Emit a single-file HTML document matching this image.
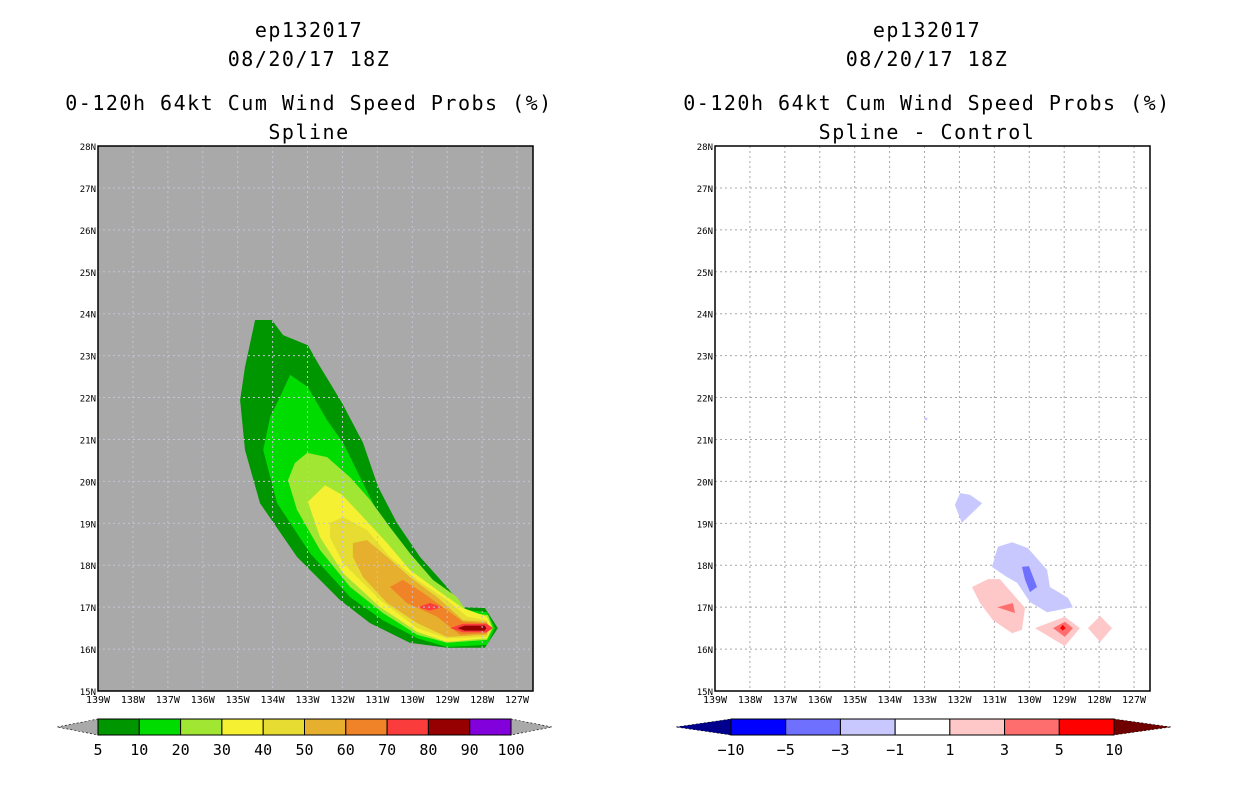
<!DOCTYPE html>
<html><head><meta charset="utf-8"><style>
body{margin:0;background:#fff;width:1236px;height:800px;overflow:hidden}
svg{display:block}
text{font-family:"DejaVu Sans Mono","Liberation Mono",monospace}
.tt{letter-spacing:1.5px}
</style></head><body>
<svg id="chart" width="1236" height="800" xmlns="http://www.w3.org/2000/svg">
<g font-size="20" text-anchor="middle" fill="#000" class="tt">
<text x="309" y="37">ep132017</text>
<text x="309" y="66">08/20/17 18Z</text>
<text x="309" y="110">0-120h 64kt Cum Wind Speed Probs (%)</text>
<text x="309" y="139">Spline</text>
</g>
<g font-size="20" text-anchor="middle" fill="#000" class="tt">
<text x="927" y="37">ep132017</text>
<text x="927" y="66">08/20/17 18Z</text>
<text x="927" y="110">0-120h 64kt Cum Wind Speed Probs (%)</text>
<text x="927" y="139">Spline - Control</text>
</g>
</svg>
<script>
// ---- data ----
const lonTicks=[-139,-138,-137,-136,-135,-134,-133,-132,-131,-130,-129,-128,-127];
const latTicks=[15,16,17,18,19,20,21,22,23,24,25,26,27,28];
const probLevels=[5,10,20,30,40,50,60,70,80,90,100];
const probColors=["#009600","#00dc00","#a0e632","#f5f032","#e6dc32","#e6af2d","#f08228","#fa3c3c","#960000","#8200dc"];
const diffLevels=[-10,-5,-3,-1,1,3,5,10];
const diffColors=["#0000ff","#7070ff","#c8c8ff","#ffffff","#ffc8c8","#ff6e6e","#ff0000"];
const prob5=[[-134.5,23.85],[-134.02,23.85],[-133.7,23.49],[-132.99,23.25],[-132.7,22.82],[-132.01,21.87],[-131.41,20.92],[-130.98,19.87],[-130.44,19.01],[-129.78,18.2],[-129.01,17.48],[-128.55,17.0],[-127.92,16.98],[-127.55,16.5],[-127.92,16.03],[-129.01,16.03],[-130.07,16.15],[-131.21,16.62],[-132.07,17.17],[-133.3,18.2],[-134.36,19.48],[-134.79,20.75],[-134.93,21.94],[-134.79,22.73]];
const prob10=[[-133.5,22.54],[-132.99,22.25],[-132.44,21.46],[-131.98,20.92],[-131.41,19.96],[-130.84,19.01],[-130.15,18.2],[-129.41,17.48],[-128.72,17.1],[-128.43,16.93],[-127.86,16.88],[-127.63,16.5],[-127.86,16.1],[-129.01,16.05],[-129.86,16.26],[-130.84,16.69],[-131.78,17.24],[-132.93,18.29],[-133.87,19.48],[-134.27,20.75],[-134.07,21.54],[-133.79,22.01]];
const prob20=[[-133.01,20.68],[-132.44,20.58],[-131.78,20.1],[-131.21,19.56],[-130.64,18.91],[-130.07,18.29],[-129.41,17.65],[-128.72,17.24],[-128.43,16.88],[-127.83,16.81],[-127.69,16.5],[-127.86,16.22],[-129.01,16.15],[-129.86,16.34],[-130.84,16.86],[-131.78,17.48],[-132.64,18.36],[-133.3,19.32],[-133.56,20.03],[-133.36,20.44]];
const prob30=[[-132.5,19.91],[-132.01,19.68],[-131.41,19.15],[-130.72,18.53],[-130.07,17.89],[-129.29,17.41],[-128.55,16.98],[-127.86,16.77],[-127.72,16.5],[-127.86,16.26],[-129.01,16.17],[-129.86,16.41],[-130.92,17.0],[-131.98,17.81],[-132.64,18.67],[-132.99,19.51]];
const prob40=[[-132.36,19.01],[-131.98,19.15],[-131.3,18.84],[-130.64,18.2],[-129.86,17.65],[-129.01,17.17],[-128.43,16.77],[-127.86,16.69],[-127.77,16.5],[-127.86,16.29],[-129.01,16.26],[-129.86,16.5],[-130.92,17.17],[-131.98,18.05],[-132.36,18.67]];
const prob50=[[-131.7,18.53],[-131.3,18.6],[-130.72,18.2],[-130.07,17.72],[-129.29,17.24],[-128.55,16.69],[-127.86,16.65],[-127.83,16.5],[-127.86,16.34],[-129.01,16.29],[-129.86,16.62],[-130.72,17.1],[-131.41,17.72],[-131.7,18.2]];
const prob60=[[-130.64,17.48],[-130.27,17.65],[-129.69,17.34],[-129.12,17.0],[-128.55,16.65],[-127.86,16.62],[-127.86,16.38],[-128.63,16.34],[-129.29,16.77],[-130.15,17.1]];
const prob70a=[[-129.85,17.0],[-129.49,17.1],[-129.15,17.0],[-129.49,16.92]];
const prob70b=[[-128.92,16.5],[-128.55,16.6],[-127.86,16.6],[-127.69,16.5],[-127.86,16.4],[-128.55,16.4]];
const prob80=[[-128.7,16.5],[-128.5,16.56],[-127.92,16.56],[-127.88,16.5],[-127.92,16.44],[-128.5,16.44]];
const diffNeg1a=[[-131.98,19.72],[-131.7,19.68],[-131.35,19.48],[-131.61,19.27],[-131.93,19.01],[-132.13,19.44]];
const diffNeg1b=[[-131.07,17.96],[-130.9,18.44],[-130.49,18.55],[-130.04,18.41],[-129.49,17.89],[-129.41,17.48],[-128.89,17.22],[-128.75,17.0],[-129.49,16.88],[-129.98,17.12],[-130.35,17.58],[-130.64,17.72]];
const diffNeg1c=[[-133.0,21.52],[-132.92,21.52],[-132.92,21.46],[-133.0,21.46]];
const diffNeg3=[[-130.21,17.96],[-130.01,17.98],[-129.78,17.48],[-129.98,17.36],[-130.12,17.65]];
const diffPos1a=[[-131.64,17.48],[-131.18,17.67],[-130.84,17.67],[-130.12,16.98],[-130.21,16.46],[-130.49,16.38],[-131.04,16.69],[-131.41,17.1]];
const diffPos1b=[[-129.84,16.5],[-128.98,16.77],[-128.55,16.5],[-128.98,16.07]];
const diffPos1c=[[-128.32,16.5],[-127.97,16.79],[-127.63,16.5],[-127.97,16.17]];
const diffPos3a=[[-130.92,17.0],[-130.47,17.1],[-130.41,16.86]];
const diffPos3b=[[-129.32,16.5],[-128.98,16.65],[-128.75,16.5],[-128.98,16.29]];
const diffPos5=[[-129.12,16.5],[-129.04,16.58],[-128.96,16.5],[-129.04,16.44]];
// ---- drawing ----
const NS="http://www.w3.org/2000/svg";
const svg=document.getElementById('chart');
function mk(tag,attrs,parent){const e=document.createElementNS(NS,tag);for(const k in attrs)e.setAttribute(k,attrs[k]);(parent||svg).appendChild(e);return e;}
const PX=34.92, PY=41.92;
function panel(x0){return {x:lon=>x0+(lon+139)*PX, y:lat=>691-(lat-15)*PY, x0:x0};}
const L=panel(98), R=panel(715);
function poly(P,pts,fill,name,parent){const e=mk('polygon',{points:pts.map(p=>P.x(p[0]).toFixed(1)+','+P.y(p[1]).toFixed(1)).join(' '),fill:fill},parent);

return e;}
function frame(P,bg,gridCol,name){
 const g=mk('g',{});
 
 
 const r=mk('rect',{x:P.x0,y:146,width:435,height:545,fill:bg},g);
 
 
 return g;}
function grid(P,col,g){
 lonTicks.slice(1).forEach(l=>{const e=mk('line',{x1:P.x(l),x2:P.x(l),y1:146,y2:691,stroke:col,'stroke-width':1,'stroke-dasharray':'2,3'},g);
 
 });
 latTicks.slice(1,-1).forEach(l=>{const e=mk('line',{x1:P.x0,x2:P.x0+435,y1:P.y(l),y2:P.y(l),stroke:col,'stroke-width':1,'stroke-dasharray':'2,3'},g);
 
 });}
function axes(P,g){
 const b=mk('rect',{x:P.x0,y:146,width:435,height:545,fill:'none',stroke:'#000','stroke-width':1.5},g);
 
 
 lonTicks.forEach(l=>{const t=mk('text',{x:P.x(l),y:703,'font-size':10,'text-anchor':'middle'},g);t.textContent=(-l)+'W';
 
 });
 latTicks.forEach(l=>{const t=mk('text',{x:P.x0-2,y:P.y(l)+4,'font-size':9,'text-anchor':'end'},g);t.textContent=l+'N';
 
 });}
// left panel
const gl=frame(L,'#a9a9a9','#c8c8dc','left-plot');
const probPolys=[prob5,prob10,prob20,prob30,prob40,prob50,prob60];
probPolys.forEach((p,i)=>poly(L,p,probColors[i],'prob-contour-'+probLevels[i],gl));
poly(L,prob70a,probColors[7],'prob-contour-70a',gl);
poly(L,prob70b,probColors[7],'prob-contour-70b',gl);
poly(L,prob80,probColors[8],'prob-contour-80',gl);
grid(L,'#c4c4d4',gl); axes(L,gl);
// right panel
const gr=frame(R,'#ffffff','#aaa','right-plot');
grid(R,'#a8a8a8',gr);
[diffNeg1a,diffNeg1b,diffNeg1c].forEach((p,i)=>poly(R,p,diffColors[2],'diff-contour-neg1-'+i,gr));
poly(R,diffNeg3,diffColors[1],'diff-contour-neg3',gr);
[diffPos1a,diffPos1b,diffPos1c].forEach((p,i)=>poly(R,p,diffColors[4],'diff-contour-pos1-'+i,gr));
[diffPos3a,diffPos3b].forEach((p,i)=>poly(R,p,diffColors[5],'diff-contour-pos3-'+i,gr));
poly(R,diffPos5,diffColors[6],'diff-contour-pos5',gr);
axes(R,gr);
// colorbars
function colorbar(x0,x1,ta,tb,colors,levels,lc,rc,name){
 const g=mk('g',{});
 
 
 const y0=719,y1=735,ym=727,w=(x1-x0)/colors.length;
 const a=mk('polygon',{points:`${ta},${ym} ${x0},${y0} ${x0},${y1}`,fill:lc,stroke:'#000','stroke-width':0.6,'stroke-dasharray':'2,2'},g);
 
 
 const b=mk('polygon',{points:`${tb},${ym} ${x1},${y0} ${x1},${y1}`,fill:rc,stroke:'#000','stroke-width':0.6,'stroke-dasharray':'2,2'},g);
 
 
 colors.forEach((c,i)=>{const r=mk('rect',{x:x0+i*w,y:y0,width:w,height:y1-y0,fill:c,stroke:'#000','stroke-width':1},g);
 
 });
 levels.forEach((l,i)=>{const t=mk('text',{x:x0+i*w,y:755,'font-size':15,'text-anchor':'middle'},g);t.textContent=String(l).replace('-','\u2212');
 
 });}
colorbar(98,511,57,552,probColors,probLevels,'#a9a9a9','#a9a9a9','prob-colorbar');
colorbar(731,1114,676,1171,diffColors,diffLevels,'#00008c','#700000','diff-colorbar');
</script>
</body></html>
